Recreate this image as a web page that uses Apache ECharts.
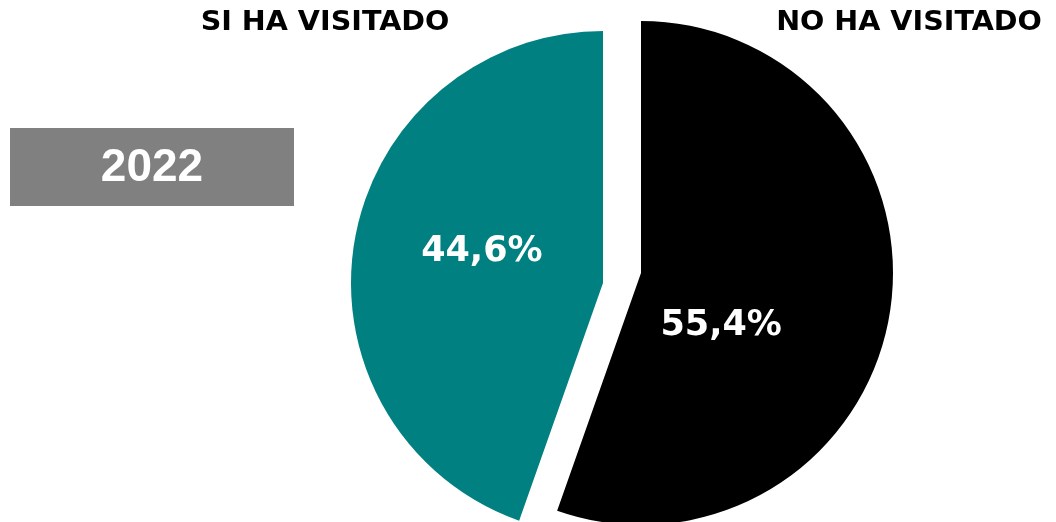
<!DOCTYPE html>
<html>
<head>
<meta charset="utf-8">
<script src="https://cdn.jsdelivr.net/npm/echarts@6/dist/echarts.min.js"></script>
<style>
  html, body { margin: 0; padding: 0; background: #fff; }
  #chart { width: 1056px; height: 522px; }
</style>
</head>
<body>
<div id="chart"></div>
<script>
// data
const categories = ['NO HA VISITADO', 'SI HA VISITADO'];
const values = [55.4, 44.6];
const colors = ['#000000', '#008080'];
const year = '2022';

const font = '"DejaVu Sans", sans-serif';

// each slice is drawn by its own series so it can sit at its own exploded centre
const slices = [
  { centre: [641, 273], offset: [-47, 31] },
  { centre: [603, 283], offset: [6, -9] }
];

function fmt(v) {
  return v.toFixed(1).replace('.', ',') + '%';
}

let series = slices.map((s, k) => ({
  type: 'pie',
  center: s.centre,
  radius: 252,
  startAngle: 90,
  clockwise: true,
  silent: true,
  animation: false,
  labelLine: { show: false },
  data: categories.map((c, i) => ({
    name: c,
    value: values[i],
    itemStyle: { color: i === k ? colors[i] : 'rgba(0,0,0,0)' },
    label: {
      show: i === k,
      position: 'inside',
      offset: s.offset,
      formatter: (p) => fmt(p.value),
      color: '#fff',
      fontFamily: font,
      fontWeight: 'bold',
      fontSize: 35
    }
  }))
}));

// headers above each slice, stretched a bit to mimic the wide original face
function header(text, x) {
  return {
    type: 'text', x: x, y: 23, scaleX: 1.1,
    style: { text: text, fill: '#000', font: 'bold 26px ' + font,
      textAlign: 'center', textVerticalAlign: 'middle' }
  };
}

let chart = echarts.init(document.getElementById('chart'));
chart.setOption({
  backgroundColor: '#fff',
  graphic: [
    header(categories[1], 325),
    header(categories[0], 909),
    { type: 'rect', shape: { x: 10, y: 128, width: 284, height: 78 },
      style: { fill: '#808080' } },
    { type: 'text', x: 152, y: 168,
      style: { text: year, fill: '#fff', font: 'bold 46px "Liberation Sans", Arial, sans-serif',
        textAlign: 'center', textVerticalAlign: 'middle' } }
  ],
  series: series
});
</script>
</body>
</html>
